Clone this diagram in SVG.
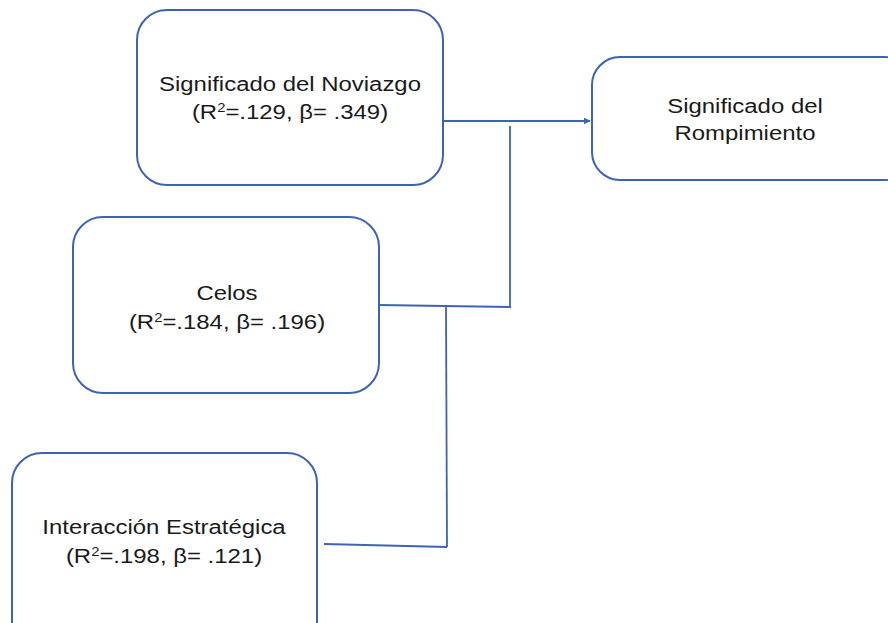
<svg xmlns="http://www.w3.org/2000/svg" width="888" height="623" viewBox="0 0 888 623">
  <style>
    .box { fill: #ffffff; stroke: #3d64b4; stroke-width: 2; }
    .wire { fill: none; stroke: #3d64b4; stroke-width: 1.8; }
    .lbl { font-family: "Liberation Sans", Arial, sans-serif; font-size: 21px; fill: #1a1a1a; text-anchor: middle; }
    .sup { font-size: 13px; }
  </style>
  <defs>
    <marker id="arrow" viewBox="0 0 10 10" refX="9" refY="5" markerWidth="7" markerHeight="7" markerUnits="userSpaceOnUse" orient="auto">
      <path d="M0,0 L10,5 L0,10 z" fill="#3d64b4"/>
    </marker>
  </defs>
  <rect width="888" height="623" fill="#ffffff"/>

  <g id="connectors">
    <line class="wire" x1="443" y1="121" x2="590" y2="121" marker-end="url(#arrow)"/>
    <line class="wire" x1="510" y1="126" x2="510" y2="306"/>
    <line class="wire" x1="379" y1="305" x2="511" y2="307"/>
    <line class="wire" x1="446" y1="307" x2="447" y2="547"/>
    <line class="wire" x1="324" y1="544" x2="447" y2="547"/>
  </g>

  <g id="node-noviazgo">
    <rect class="box" x="137" y="10" width="306" height="175" rx="30" ry="30"/>
    <g transform="translate(290 0) scale(1.14 1)">
      <text class="lbl" x="0" y="91">Significado del Noviazgo</text>
      <text class="lbl" x="0" y="119">(R<tspan class="sup" dy="-7">2</tspan><tspan dy="7">=.129, β= .349)</tspan></text>
    </g>
  </g>

  <g id="node-rompimiento">
    <rect class="box" x="592" y="57" width="320" height="123" rx="28" ry="28"/>
    <g transform="translate(745 0) scale(1.14 1)">
      <text class="lbl" x="0" y="113">Significado del</text>
      <text class="lbl" x="0" y="140">Rompimiento</text>
    </g>
  </g>

  <g id="node-celos">
    <rect class="box" x="73" y="217" width="306" height="176" rx="30" ry="30"/>
    <g transform="translate(227 0) scale(1.14 1)">
      <text class="lbl" x="0" y="300">Celos</text>
      <text class="lbl" x="0" y="329">(R<tspan class="sup" dy="-7">2</tspan><tspan dy="7">=.184, β= .196)</tspan></text>
    </g>
  </g>

  <g id="node-interaccion">
    <rect class="box" x="12" y="453" width="305" height="200" rx="30" ry="30"/>
    <g transform="translate(164 0) scale(1.14 1)">
      <text class="lbl" x="0" y="534">Interacción Estratégica</text>
      <text class="lbl" x="0" y="563">(R<tspan class="sup" dy="-7">2</tspan><tspan dy="7">=.198, β= .121)</tspan></text>
    </g>
  </g>
</svg>
